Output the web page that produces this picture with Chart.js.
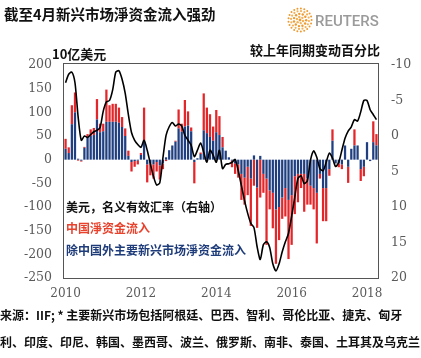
<!DOCTYPE html>
<html><head><meta charset="utf-8">
<script src="https://cdn.jsdelivr.net/npm/chart.js@4/dist/chart.umd.min.js"></script>
<style>
html,body{margin:0;padding:0;background:#fff;}
#wrap{position:relative;width:421px;height:358px;overflow:hidden;font-family:"Noto Sans CJK SC","Noto Sans",sans-serif;}
canvas{position:absolute;left:0;top:0;}
.t{position:absolute;white-space:nowrap;font-weight:700;line-height:1;}
</style></head><body>
<div id="wrap">
<canvas id="c" width="421" height="358"></canvas>
<div class="t" style="left:4px;top:7px;font-size:14.5px;color:#111;">截至4月新兴市场淨资金流入强劲</div>
<div class="t" style="left:315px;top:14px;font-size:15px;color:#9b9b9b;font-family:Roboto,'Open Sans',sans-serif;font-weight:500;">REUTERS</div>
<div class="t" style="left:52px;top:46.5px;font-size:13px;color:#111;">10亿美元</div>
<div class="t" style="left:250px;top:42.5px;font-size:13px;color:#111;">较上年同期变动百分比</div>
<div class="t" style="left:66px;top:201px;font-size:12px;color:#111;">美元，名义有效汇率（右轴）</div>
<div class="t" style="left:66px;top:221.5px;font-size:12px;color:#e8412c;">中国淨资金流入</div>
<div class="t" style="left:66px;top:244px;font-size:12px;color:#1f3c7a;">除中国外主要新兴市场淨资金流入</div>
<div class="t" style="left:0px;top:309px;font-size:12px;color:#111;">来源：IIF; * 主要新兴市场包括阿根廷、巴西、智利、哥伦比亚、捷克、匈牙</div>
<div class="t" style="left:0px;top:336px;font-size:12px;color:#111;">利、印度、印尼、韩国、墨西哥、波兰、俄罗斯、南非、泰国、土耳其及乌克兰</div>
</div>
<script>
// ---- data (monthly, Jan 2010 - Apr 2018) ----
const startYear = 2010, monthCount = 100;
const months = [];
for (let k = 0; k < monthCount; k++) {
  const y = startYear + Math.floor(k / 12), m = (k % 12) + 1;
  months.push(y + '-' + (m < 10 ? '0' + m : m));
}
const tickYears = ['2010', '2012', '2014', '2016', '2018'];

// ex-China major EM net flows, $bn
const exChinaFlows = [
  23,14,75,100,2,-2,25,48,50,52,
  85,58,60,80,80,80,80,78,69,50,
  8,-5,-3,-2,10,40,-10,-8,-10,-5,
  -12,-8,5,20,30,38,66,59,70,72,
  60,-5,3,12,62,56,48,40,58,52,
  26,19,5,-2,-8,-10,-30,-38,-15,-40,
  9,-59,8,-30,-40,-65,-70,-105,-100,-80,
  -60,-85,-75,-35,-30,-30,-30,-40,-55,-60,
  -70,-30,-60,-60,-20,40,-8,-8,-10,30,
  -15,23,30,30,-20,-15,37,-3,37,30
];
// China net flows, $bn
const chinaFlows = [
  21,12,40,42,-2,-2,2,6,14,15,
  43,18,16,68,35,38,38,32,21,16,
  11,-20,-12,-8,4,70,-38,-25,-30,-20,
  -30,-12,-3,0,0,2,40,17,56,30,
  8,-45,0,3,78,54,48,30,47,40,
  22,0,0,-14,-22,-28,-55,-57,-60,-100,
  -55,-85,-80,-40,-140,-40,-75,-115,-70,-45,
  -60,-125,-105,-80,-60,-30,-80,-55,-40,-45,
  -107,-10,-70,-70,-14,24,0,-8,-10,0,
  -34,0,34,0,-25,-20,0,0,44,24
];
// USD nominal effective rate, % y/y (right axis, inverted)
const dollarYoY = [
  -7.5,-8.7,-9.0,-7.5,-2.7,0.6,0.0,0.2,-0.2,-0.6,
  -0.8,-1.2,-3.5,-4.8,-5.0,-6.5,-9.0,-9.2,-8.0,-6.0,
  -3.0,-0.5,0.6,1.2,1.6,0.6,2.0,3.9,5.7,6.9,
  6.6,3.1,-0.1,-1.3,-1.9,-1.4,-1.7,-1.4,-0.1,0.6,
  1.3,2.9,2.0,1.0,2.3,3.7,2.0,2.7,3.7,2.0,
  4.6,4.0,3.9,3.7,3.3,4.9,7.0,9.1,10.9,12.3,
  12.9,15.6,17.4,15.3,14.9,15.7,18.0,19.0,18.0,16.3,
  14.9,13.7,11.3,8.6,6.0,5.6,6.7,6.3,3.4,2.1,
  3.0,4.6,4.9,3.7,2.4,3.1,4.3,3.7,2.0,0.3,
  -0.7,-1.3,-2.3,-2.1,-3.4,-5.0,-5.0,-3.7,-3.0,-2.3
];

const frame = {
  id: 'frame',
  afterDatasetsDraw(chart) {
    const {ctx, chartArea: a} = chart;
    ctx.save();
    ctx.strokeStyle = '#555';
    ctx.lineWidth = 1;
    ctx.strokeRect(Math.round(a.left) - 0.5, Math.round(a.top) - 1.5, Math.round(a.right - a.left) + 1, Math.round(a.bottom - a.top) + 2);
    ctx.restore();
  },
  afterDraw(chart) {
    // Reuters dotted logo
    const ctx = chart.ctx, cx = 300, cy = 20;
    ctx.save();
    const rings = [[0,1,1.4],[3.2,6,1.2],[6.2,11,1.2],[9,16,1.1],[11.6,21,1.0]];
    rings.forEach(([r,n,d],ri) => {
      for (let k = 0; k < n; k++) {
        const ang = k / n * Math.PI * 2 + ri * 0.3;
        ctx.fillStyle = ri % 2 ? '#f3b25a' : '#ee9a2e';
        ctx.beginPath();
        ctx.arc(cx + r * Math.cos(ang), cy + r * Math.sin(ang), d, 0, Math.PI * 2);
        ctx.fill();
      }
    });
    ctx.restore();
  }
};

const tickFont = {family: 'DejaVu Serif', size: 12};
new Chart(document.getElementById('c'), {
  data: {
    labels: months,
    datasets: [
      {type: 'line', label: '美元，名义有效汇率（右轴）', data: dollarYoY, yAxisID: 'y2',
       borderColor: '#000', borderWidth: 1.6, pointRadius: 0, tension: 0.25, order: 0},
      {type: 'bar', label: '除中国外主要新兴市场淨资金流入', data: exChinaFlows, yAxisID: 'y',
       backgroundColor: '#1f3f80', borderWidth: 0, barPercentage: 0.72, categoryPercentage: 1, order: 1},
      {type: 'bar', label: '中国淨资金流入', data: chinaFlows, yAxisID: 'y',
       backgroundColor: '#e3262a', borderWidth: 0, barPercentage: 0.72, categoryPercentage: 1, order: 1}
    ]
  },
  options: {
    responsive: false, animation: false, devicePixelRatio: 1,
    layout: {padding: {top: 65, bottom: 50, left: 0, right: 0}},
    plugins: {legend: {display: false}, tooltip: {enabled: false}},
    scales: {
      x: {type: 'category', stacked: true, offset: true,
          grid: {display: false, drawTicks: false}, border: {display: false},
          ticks: {autoSkip: false, maxRotation: 0, padding: 9, font: tickFont, color: '#5a5a5a',
            callback(v, i) { const s = months[i]; return (s.endsWith('-01') && tickYears.includes(s.slice(0,4))) ? s.slice(0,4) : ''; }},
          afterFit(s) { s.height = 30; }},
      y: {position: 'left', stacked: true, min: -250, max: 200,
          grid: {display: false, drawTicks: false}, border: {display: false},
          ticks: {stepSize: 50, padding: 12, font: {family: 'DejaVu Serif', size: 12.5}, color: '#5a5a5a'},
          afterFit(s) { s.width = 64; }},
      y2: {position: 'right', reverse: true, min: -10, max: 20,
          grid: {display: false, drawTicks: false}, border: {display: false},
          ticks: {stepSize: 5, padding: 13, font: {family: 'DejaVu Serif', size: 12.5}, color: '#5a5a5a'},
          afterFit(s) { s.width = 43; }}
    }
  },
  plugins: [frame]
});
</script>
</body></html>
